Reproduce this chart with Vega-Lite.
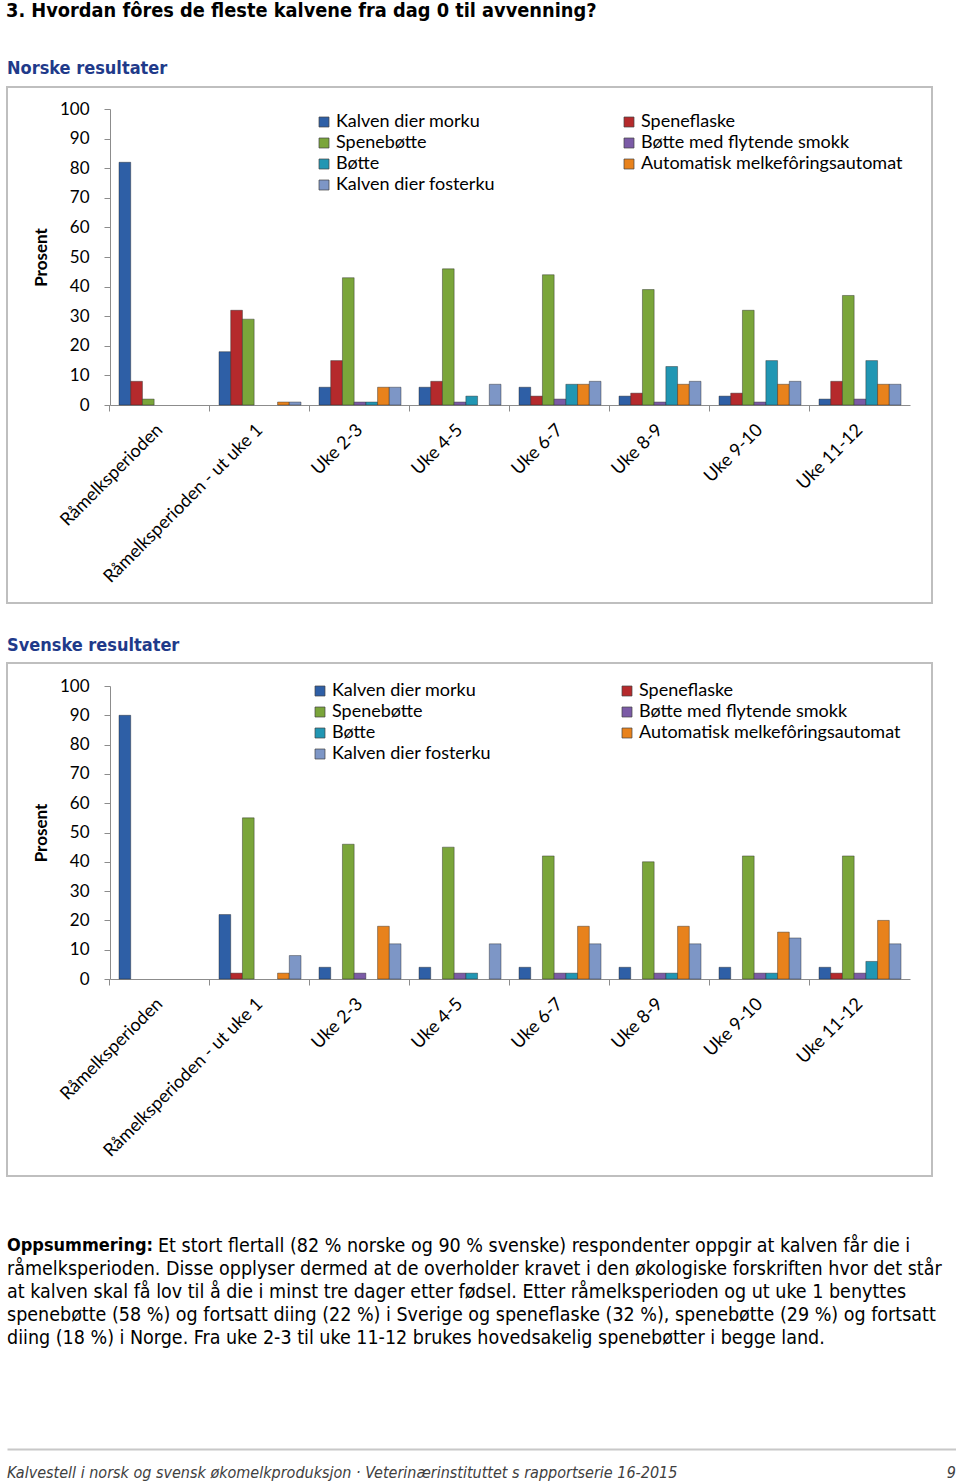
{
  "$schema": "https://vega.github.io/schema/vega-lite/v6.json",
  "background": "white",
  "padding": {"left": 6, "top": 1, "right": 0, "bottom": 0},
  "spacing": 32,
  "title": {
    "text": "3. Hvordan fôres de fleste kalvene fra dag 0 til avvenning?",
    "anchor": "start",
    "font": "DejaVu Sans Condensed",
    "fontSize": 19.8,
    "fontWeight": "bold",
    "color": "#000000",
    "offset": 38
  },
  "config": {
    "view": {"stroke": "#bfbfbf", "strokeWidth": 2},
    "axis": {
      "domainColor": "#8c8c8c",
      "tickColor": "#8c8c8c",
      "labelColor": "#000000",
      "labelFont": "Lato",
      "labelFontSize": 17,
      "labelLimit": 400,
      "titleFont": "Lato",
      "titleFontSize": 17,
      "titleFontWeight": "bold",
      "titleColor": "#000000",
      "grid": false
    },
    "legend": {
      "labelFont": "Lato",
      "labelFontSize": 18,
      "labelColor": "#000000",
      "labelLimit": 400,
      "symbolType": "square",
      "symbolSize": 100,
      "symbolStrokeWidth": 0.7,
      "symbolStrokeColor": "#444444",
      "labelOffset": 3,
      "rowPadding": 3
    }
  },
  "datasets": {
    "bars": [
      {"land": "Norge", "periode": "Råmelksperioden", "metode": "Kalven dier morku", "prosent": 82},
      {"land": "Norge", "periode": "Råmelksperioden", "metode": "Speneflaske", "prosent": 8},
      {"land": "Norge", "periode": "Råmelksperioden", "metode": "Spenebøtte", "prosent": 2},
      {"land": "Norge", "periode": "Råmelksperioden - ut uke 1", "metode": "Kalven dier morku", "prosent": 18},
      {"land": "Norge", "periode": "Råmelksperioden - ut uke 1", "metode": "Speneflaske", "prosent": 32},
      {"land": "Norge", "periode": "Råmelksperioden - ut uke 1", "metode": "Spenebøtte", "prosent": 29},
      {"land": "Norge", "periode": "Råmelksperioden - ut uke 1", "metode": "Automatisk melkefôringsautomat", "prosent": 1},
      {"land": "Norge", "periode": "Råmelksperioden - ut uke 1", "metode": "Kalven dier fosterku", "prosent": 1},
      {"land": "Norge", "periode": "Uke 2-3", "metode": "Kalven dier morku", "prosent": 6},
      {"land": "Norge", "periode": "Uke 2-3", "metode": "Speneflaske", "prosent": 15},
      {"land": "Norge", "periode": "Uke 2-3", "metode": "Spenebøtte", "prosent": 43},
      {"land": "Norge", "periode": "Uke 2-3", "metode": "Bøtte med flytende smokk", "prosent": 1},
      {"land": "Norge", "periode": "Uke 2-3", "metode": "Bøtte", "prosent": 1},
      {"land": "Norge", "periode": "Uke 2-3", "metode": "Automatisk melkefôringsautomat", "prosent": 6},
      {"land": "Norge", "periode": "Uke 2-3", "metode": "Kalven dier fosterku", "prosent": 6},
      {"land": "Norge", "periode": "Uke 4-5", "metode": "Kalven dier morku", "prosent": 6},
      {"land": "Norge", "periode": "Uke 4-5", "metode": "Speneflaske", "prosent": 8},
      {"land": "Norge", "periode": "Uke 4-5", "metode": "Spenebøtte", "prosent": 46},
      {"land": "Norge", "periode": "Uke 4-5", "metode": "Bøtte med flytende smokk", "prosent": 1},
      {"land": "Norge", "periode": "Uke 4-5", "metode": "Bøtte", "prosent": 3},
      {"land": "Norge", "periode": "Uke 4-5", "metode": "Kalven dier fosterku", "prosent": 7},
      {"land": "Norge", "periode": "Uke 6-7", "metode": "Kalven dier morku", "prosent": 6},
      {"land": "Norge", "periode": "Uke 6-7", "metode": "Speneflaske", "prosent": 3},
      {"land": "Norge", "periode": "Uke 6-7", "metode": "Spenebøtte", "prosent": 44},
      {"land": "Norge", "periode": "Uke 6-7", "metode": "Bøtte med flytende smokk", "prosent": 2},
      {"land": "Norge", "periode": "Uke 6-7", "metode": "Bøtte", "prosent": 7},
      {"land": "Norge", "periode": "Uke 6-7", "metode": "Automatisk melkefôringsautomat", "prosent": 7},
      {"land": "Norge", "periode": "Uke 6-7", "metode": "Kalven dier fosterku", "prosent": 8},
      {"land": "Norge", "periode": "Uke 8-9", "metode": "Kalven dier morku", "prosent": 3},
      {"land": "Norge", "periode": "Uke 8-9", "metode": "Speneflaske", "prosent": 4},
      {"land": "Norge", "periode": "Uke 8-9", "metode": "Spenebøtte", "prosent": 39},
      {"land": "Norge", "periode": "Uke 8-9", "metode": "Bøtte med flytende smokk", "prosent": 1},
      {"land": "Norge", "periode": "Uke 8-9", "metode": "Bøtte", "prosent": 13},
      {"land": "Norge", "periode": "Uke 8-9", "metode": "Automatisk melkefôringsautomat", "prosent": 7},
      {"land": "Norge", "periode": "Uke 8-9", "metode": "Kalven dier fosterku", "prosent": 8},
      {"land": "Norge", "periode": "Uke 9-10", "metode": "Kalven dier morku", "prosent": 3},
      {"land": "Norge", "periode": "Uke 9-10", "metode": "Speneflaske", "prosent": 4},
      {"land": "Norge", "periode": "Uke 9-10", "metode": "Spenebøtte", "prosent": 32},
      {"land": "Norge", "periode": "Uke 9-10", "metode": "Bøtte med flytende smokk", "prosent": 1},
      {"land": "Norge", "periode": "Uke 9-10", "metode": "Bøtte", "prosent": 15},
      {"land": "Norge", "periode": "Uke 9-10", "metode": "Automatisk melkefôringsautomat", "prosent": 7},
      {"land": "Norge", "periode": "Uke 9-10", "metode": "Kalven dier fosterku", "prosent": 8},
      {"land": "Norge", "periode": "Uke 11-12", "metode": "Kalven dier morku", "prosent": 2},
      {"land": "Norge", "periode": "Uke 11-12", "metode": "Speneflaske", "prosent": 8},
      {"land": "Norge", "periode": "Uke 11-12", "metode": "Spenebøtte", "prosent": 37},
      {"land": "Norge", "periode": "Uke 11-12", "metode": "Bøtte med flytende smokk", "prosent": 2},
      {"land": "Norge", "periode": "Uke 11-12", "metode": "Bøtte", "prosent": 15},
      {"land": "Norge", "periode": "Uke 11-12", "metode": "Automatisk melkefôringsautomat", "prosent": 7},
      {"land": "Norge", "periode": "Uke 11-12", "metode": "Kalven dier fosterku", "prosent": 7},
      {"land": "Sverige", "periode": "Råmelksperioden", "metode": "Kalven dier morku", "prosent": 90},
      {"land": "Sverige", "periode": "Råmelksperioden - ut uke 1", "metode": "Kalven dier morku", "prosent": 22},
      {"land": "Sverige", "periode": "Råmelksperioden - ut uke 1", "metode": "Speneflaske", "prosent": 2},
      {"land": "Sverige", "periode": "Råmelksperioden - ut uke 1", "metode": "Spenebøtte", "prosent": 55},
      {"land": "Sverige", "periode": "Råmelksperioden - ut uke 1", "metode": "Automatisk melkefôringsautomat", "prosent": 2},
      {"land": "Sverige", "periode": "Råmelksperioden - ut uke 1", "metode": "Kalven dier fosterku", "prosent": 8},
      {"land": "Sverige", "periode": "Uke 2-3", "metode": "Kalven dier morku", "prosent": 4},
      {"land": "Sverige", "periode": "Uke 2-3", "metode": "Spenebøtte", "prosent": 46},
      {"land": "Sverige", "periode": "Uke 2-3", "metode": "Bøtte med flytende smokk", "prosent": 2},
      {"land": "Sverige", "periode": "Uke 2-3", "metode": "Automatisk melkefôringsautomat", "prosent": 18},
      {"land": "Sverige", "periode": "Uke 2-3", "metode": "Kalven dier fosterku", "prosent": 12},
      {"land": "Sverige", "periode": "Uke 4-5", "metode": "Kalven dier morku", "prosent": 4},
      {"land": "Sverige", "periode": "Uke 4-5", "metode": "Spenebøtte", "prosent": 45},
      {"land": "Sverige", "periode": "Uke 4-5", "metode": "Bøtte med flytende smokk", "prosent": 2},
      {"land": "Sverige", "periode": "Uke 4-5", "metode": "Bøtte", "prosent": 2},
      {"land": "Sverige", "periode": "Uke 4-5", "metode": "Kalven dier fosterku", "prosent": 12},
      {"land": "Sverige", "periode": "Uke 6-7", "metode": "Kalven dier morku", "prosent": 4},
      {"land": "Sverige", "periode": "Uke 6-7", "metode": "Spenebøtte", "prosent": 42},
      {"land": "Sverige", "periode": "Uke 6-7", "metode": "Bøtte med flytende smokk", "prosent": 2},
      {"land": "Sverige", "periode": "Uke 6-7", "metode": "Bøtte", "prosent": 2},
      {"land": "Sverige", "periode": "Uke 6-7", "metode": "Automatisk melkefôringsautomat", "prosent": 18},
      {"land": "Sverige", "periode": "Uke 6-7", "metode": "Kalven dier fosterku", "prosent": 12},
      {"land": "Sverige", "periode": "Uke 8-9", "metode": "Kalven dier morku", "prosent": 4},
      {"land": "Sverige", "periode": "Uke 8-9", "metode": "Spenebøtte", "prosent": 40},
      {"land": "Sverige", "periode": "Uke 8-9", "metode": "Bøtte med flytende smokk", "prosent": 2},
      {"land": "Sverige", "periode": "Uke 8-9", "metode": "Bøtte", "prosent": 2},
      {"land": "Sverige", "periode": "Uke 8-9", "metode": "Automatisk melkefôringsautomat", "prosent": 18},
      {"land": "Sverige", "periode": "Uke 8-9", "metode": "Kalven dier fosterku", "prosent": 12},
      {"land": "Sverige", "periode": "Uke 9-10", "metode": "Kalven dier morku", "prosent": 4},
      {"land": "Sverige", "periode": "Uke 9-10", "metode": "Spenebøtte", "prosent": 42},
      {"land": "Sverige", "periode": "Uke 9-10", "metode": "Bøtte med flytende smokk", "prosent": 2},
      {"land": "Sverige", "periode": "Uke 9-10", "metode": "Bøtte", "prosent": 2},
      {"land": "Sverige", "periode": "Uke 9-10", "metode": "Automatisk melkefôringsautomat", "prosent": 16},
      {"land": "Sverige", "periode": "Uke 9-10", "metode": "Kalven dier fosterku", "prosent": 14},
      {"land": "Sverige", "periode": "Uke 11-12", "metode": "Kalven dier morku", "prosent": 4},
      {"land": "Sverige", "periode": "Uke 11-12", "metode": "Speneflaske", "prosent": 2},
      {"land": "Sverige", "periode": "Uke 11-12", "metode": "Spenebøtte", "prosent": 42},
      {"land": "Sverige", "periode": "Uke 11-12", "metode": "Bøtte med flytende smokk", "prosent": 2},
      {"land": "Sverige", "periode": "Uke 11-12", "metode": "Bøtte", "prosent": 6},
      {"land": "Sverige", "periode": "Uke 11-12", "metode": "Automatisk melkefôringsautomat", "prosent": 20},
      {"land": "Sverige", "periode": "Uke 11-12", "metode": "Kalven dier fosterku", "prosent": 12}
    ],
    "tekst": [
      {"linje": 1, "fet": "Oppsummering:", "tekst": "Et stort flertall (82 % norske og 90 % svenske) respondenter oppgir at kalven får die i"},
      {"linje": 2, "fet": "", "tekst": "råmelksperioden. Disse opplyser dermed at de overholder kravet i den økologiske forskriften hvor det står"},
      {"linje": 3, "fet": "", "tekst": "at kalven skal få lov til å die i minst tre dager etter fødsel. Etter råmelksperioden og ut uke 1 benyttes"},
      {"linje": 4, "fet": "", "tekst": "spenebøtte (58 %) og fortsatt diing (22 %) i Sverige og speneflaske (32 %), spenebøtte (29 %) og fortsatt"},
      {"linje": 5, "fet": "", "tekst": "diing (18 %) i Norge. Fra uke 2-3 til uke 11-12 brukes hovedsakelig spenebøtter i begge land."}
    ],
    "fot": [
      {"venstre": "Kalvestell i norsk og svensk økomelkproduksjon · Veterinærinstituttet s rapportserie 16-2015", "side": "9"}
    ]
  },
  "vconcat": [
    {
      "title": {"text": "Norske resultater", "anchor": "start", "frame": "group", "font": "DejaVu Sans Condensed", "fontSize": 18, "fontWeight": "bold", "color": "#1f3a8a", "offset": 9},
      "width": 925,
      "height": 516,
      "data": {"name": "bars"},
      "transform": [{"filter": "datum.land === 'Norge'"}],
      "mark": {"type": "bar", "stroke": "#222222", "strokeWidth": 0.7, "strokeOpacity": 0.6},
      "encoding": {
        "x": {
          "field": "periode", "type": "nominal",
          "sort": ["Råmelksperioden", "Råmelksperioden - ut uke 1", "Uke 2-3", "Uke 4-5", "Uke 6-7", "Uke 8-9", "Uke 9-10", "Uke 11-12"],
          "scale": {"range": [103, 903], "paddingInner": 0.18, "paddingOuter": 0.09},
          "axis": {"title": null, "offset": -198, "labelAngle": -45, "labelAlign": "right", "labelBaseline": "middle", "labelPadding": 16, "labelFontSize": 18, "tickSize": 6, "bandPosition": -0.1098}
        },
        "xOffset": {
          "field": "metode", "type": "nominal",
          "sort": ["Kalven dier morku", "Speneflaske", "Spenebøtte", "Bøtte med flytende smokk", "Bøtte", "Automatisk melkefôringsautomat", "Kalven dier fosterku"],
          "scale": {"domain": ["Kalven dier morku", "Speneflaske", "Spenebøtte", "Bøtte med flytende smokk", "Bøtte", "Automatisk melkefôringsautomat", "Kalven dier fosterku"], "paddingInner": 0, "paddingOuter": 0}
        },
        "y": {
          "field": "prosent", "type": "quantitative",
          "scale": {"domain": [0, 100], "range": [318, 22], "nice": false},
          "axis": {"title": "Prosent", "offset": -103, "values": [0, 10, 20, 30, 40, 50, 60, 70, 80, 90, 100], "tickSize": 6, "labelPadding": 15, "titlePadding": 9}
        },
        "color": {
          "field": "metode", "type": "nominal",
          "scale": {
            "domain": ["Kalven dier morku", "Spenebøtte", "Bøtte", "Kalven dier fosterku", "Speneflaske", "Bøtte med flytende smokk", "Automatisk melkefôringsautomat"],
            "range": ["#2e5fa6", "#7aa53a", "#2196b3", "#7d96c6", "#b52a2c", "#7b5ba6", "#e8821c"]
          },
          "legend": {"title": null, "orient": "none", "legendX": 308, "legendY": 26, "columns": 2, "columnPadding": 125}
        }
      }
    },
    {
      "title": {"text": "Svenske resultater", "anchor": "start", "frame": "group", "font": "DejaVu Sans Condensed", "fontSize": 18, "fontWeight": "bold", "color": "#1f3a8a", "offset": 8},
      "width": 925,
      "height": 513,
      "data": {"name": "bars"},
      "transform": [{"filter": "datum.land === 'Sverige'"}],
      "mark": {"type": "bar", "stroke": "#222222", "strokeWidth": 0.7, "strokeOpacity": 0.6},
      "encoding": {
        "x": {
          "field": "periode", "type": "nominal",
          "sort": ["Råmelksperioden", "Råmelksperioden - ut uke 1", "Uke 2-3", "Uke 4-5", "Uke 6-7", "Uke 8-9", "Uke 9-10", "Uke 11-12"],
          "scale": {"domain": ["Råmelksperioden", "Råmelksperioden - ut uke 1", "Uke 2-3", "Uke 4-5", "Uke 6-7", "Uke 8-9", "Uke 9-10", "Uke 11-12"], "range": [103, 903], "paddingInner": 0.18, "paddingOuter": 0.09},
          "axis": {"title": null, "offset": -197, "labelAngle": -45, "labelAlign": "right", "labelBaseline": "middle", "labelPadding": 16, "labelFontSize": 18, "tickSize": 6, "bandPosition": -0.1098}
        },
        "xOffset": {
          "field": "metode", "type": "nominal",
          "sort": ["Kalven dier morku", "Speneflaske", "Spenebøtte", "Bøtte med flytende smokk", "Bøtte", "Automatisk melkefôringsautomat", "Kalven dier fosterku"],
          "scale": {"domain": ["Kalven dier morku", "Speneflaske", "Spenebøtte", "Bøtte med flytende smokk", "Bøtte", "Automatisk melkefôringsautomat", "Kalven dier fosterku"], "paddingInner": 0, "paddingOuter": 0}
        },
        "y": {
          "field": "prosent", "type": "quantitative",
          "scale": {"domain": [0, 100], "range": [316, 23], "nice": false},
          "axis": {"title": "Prosent", "offset": -103, "values": [0, 10, 20, 30, 40, 50, 60, 70, 80, 90, 100], "tickSize": 6, "labelPadding": 15, "titlePadding": 9}
        },
        "color": {
          "field": "metode", "type": "nominal",
          "scale": {
            "domain": ["Kalven dier morku", "Spenebøtte", "Bøtte", "Kalven dier fosterku", "Speneflaske", "Bøtte med flytende smokk", "Automatisk melkefôringsautomat"],
            "range": ["#2e5fa6", "#7aa53a", "#2196b3", "#7d96c6", "#b52a2c", "#7b5ba6", "#e8821c"]
          },
          "legend": {"title": null, "orient": "none", "legendX": 304, "legendY": 19, "columns": 2, "columnPadding": 127}
        }
      }
    },
    {
      "width": 948,
      "height": 208,
      "view": {"stroke": null},
      "data": {"name": "tekst"},
      "encoding": {
        "y": {"field": "linje", "type": "quantitative", "scale": {"domain": [-0.609, 8.435], "reverse": true}, "axis": null},
        "x": {"datum": 0, "type": "quantitative", "scale": {"domain": [0, 1]}, "axis": null}
      },
      "layer": [
        {
          "transform": [{"filter": "datum.linje === 1"}],
          "mark": {"type": "text", "align": "left", "baseline": "middle", "font": "DejaVu Sans Condensed", "fontSize": 18, "fontWeight": "bold", "color": "#000000"},
          "encoding": {"text": {"field": "fet"}}
        },
        {
          "transform": [{"filter": "datum.linje === 1"}],
          "mark": {"type": "text", "align": "left", "baseline": "middle", "font": "DejaVu Sans Condensed", "fontSize": 19.5, "color": "#000000", "dx": 151},
          "encoding": {"text": {"field": "tekst"}}
        },
        {
          "transform": [{"filter": "datum.linje > 1"}],
          "mark": {"type": "text", "align": "left", "baseline": "middle", "font": "DejaVu Sans Condensed", "fontSize": 19.5, "color": "#000000"},
          "encoding": {"text": {"field": "tekst"}}
        }
      ]
    },
    {
      "width": 949,
      "height": 48,
      "view": {"stroke": null},
      "data": {"name": "fot"},
      "layer": [
        {
          "mark": {"type": "text", "align": "left", "baseline": "middle", "font": "DejaVu Sans Condensed", "fontSize": 16, "fontStyle": "italic", "color": "#404040"},
          "encoding": {
            "x": {"datum": 0, "type": "quantitative", "scale": {"domain": [0, 1]}, "axis": {"orient": "top", "domain": true, "domainColor": "#c8c8c8", "domainWidth": 2, "ticks": false, "labels": false, "title": null, "grid": false}},
            "text": {"field": "venstre"}
          }
        },
        {
          "mark": {"type": "text", "align": "right", "baseline": "middle", "font": "DejaVu Sans Condensed", "fontSize": 16, "fontStyle": "italic", "color": "#404040"},
          "encoding": {
            "x": {"datum": 1, "type": "quantitative"},
            "text": {"field": "side"}
          }
        }
      ]
    }
  ],
  "resolve": {"scale": {"color": "independent", "x": "independent", "y": "independent"}}
}
